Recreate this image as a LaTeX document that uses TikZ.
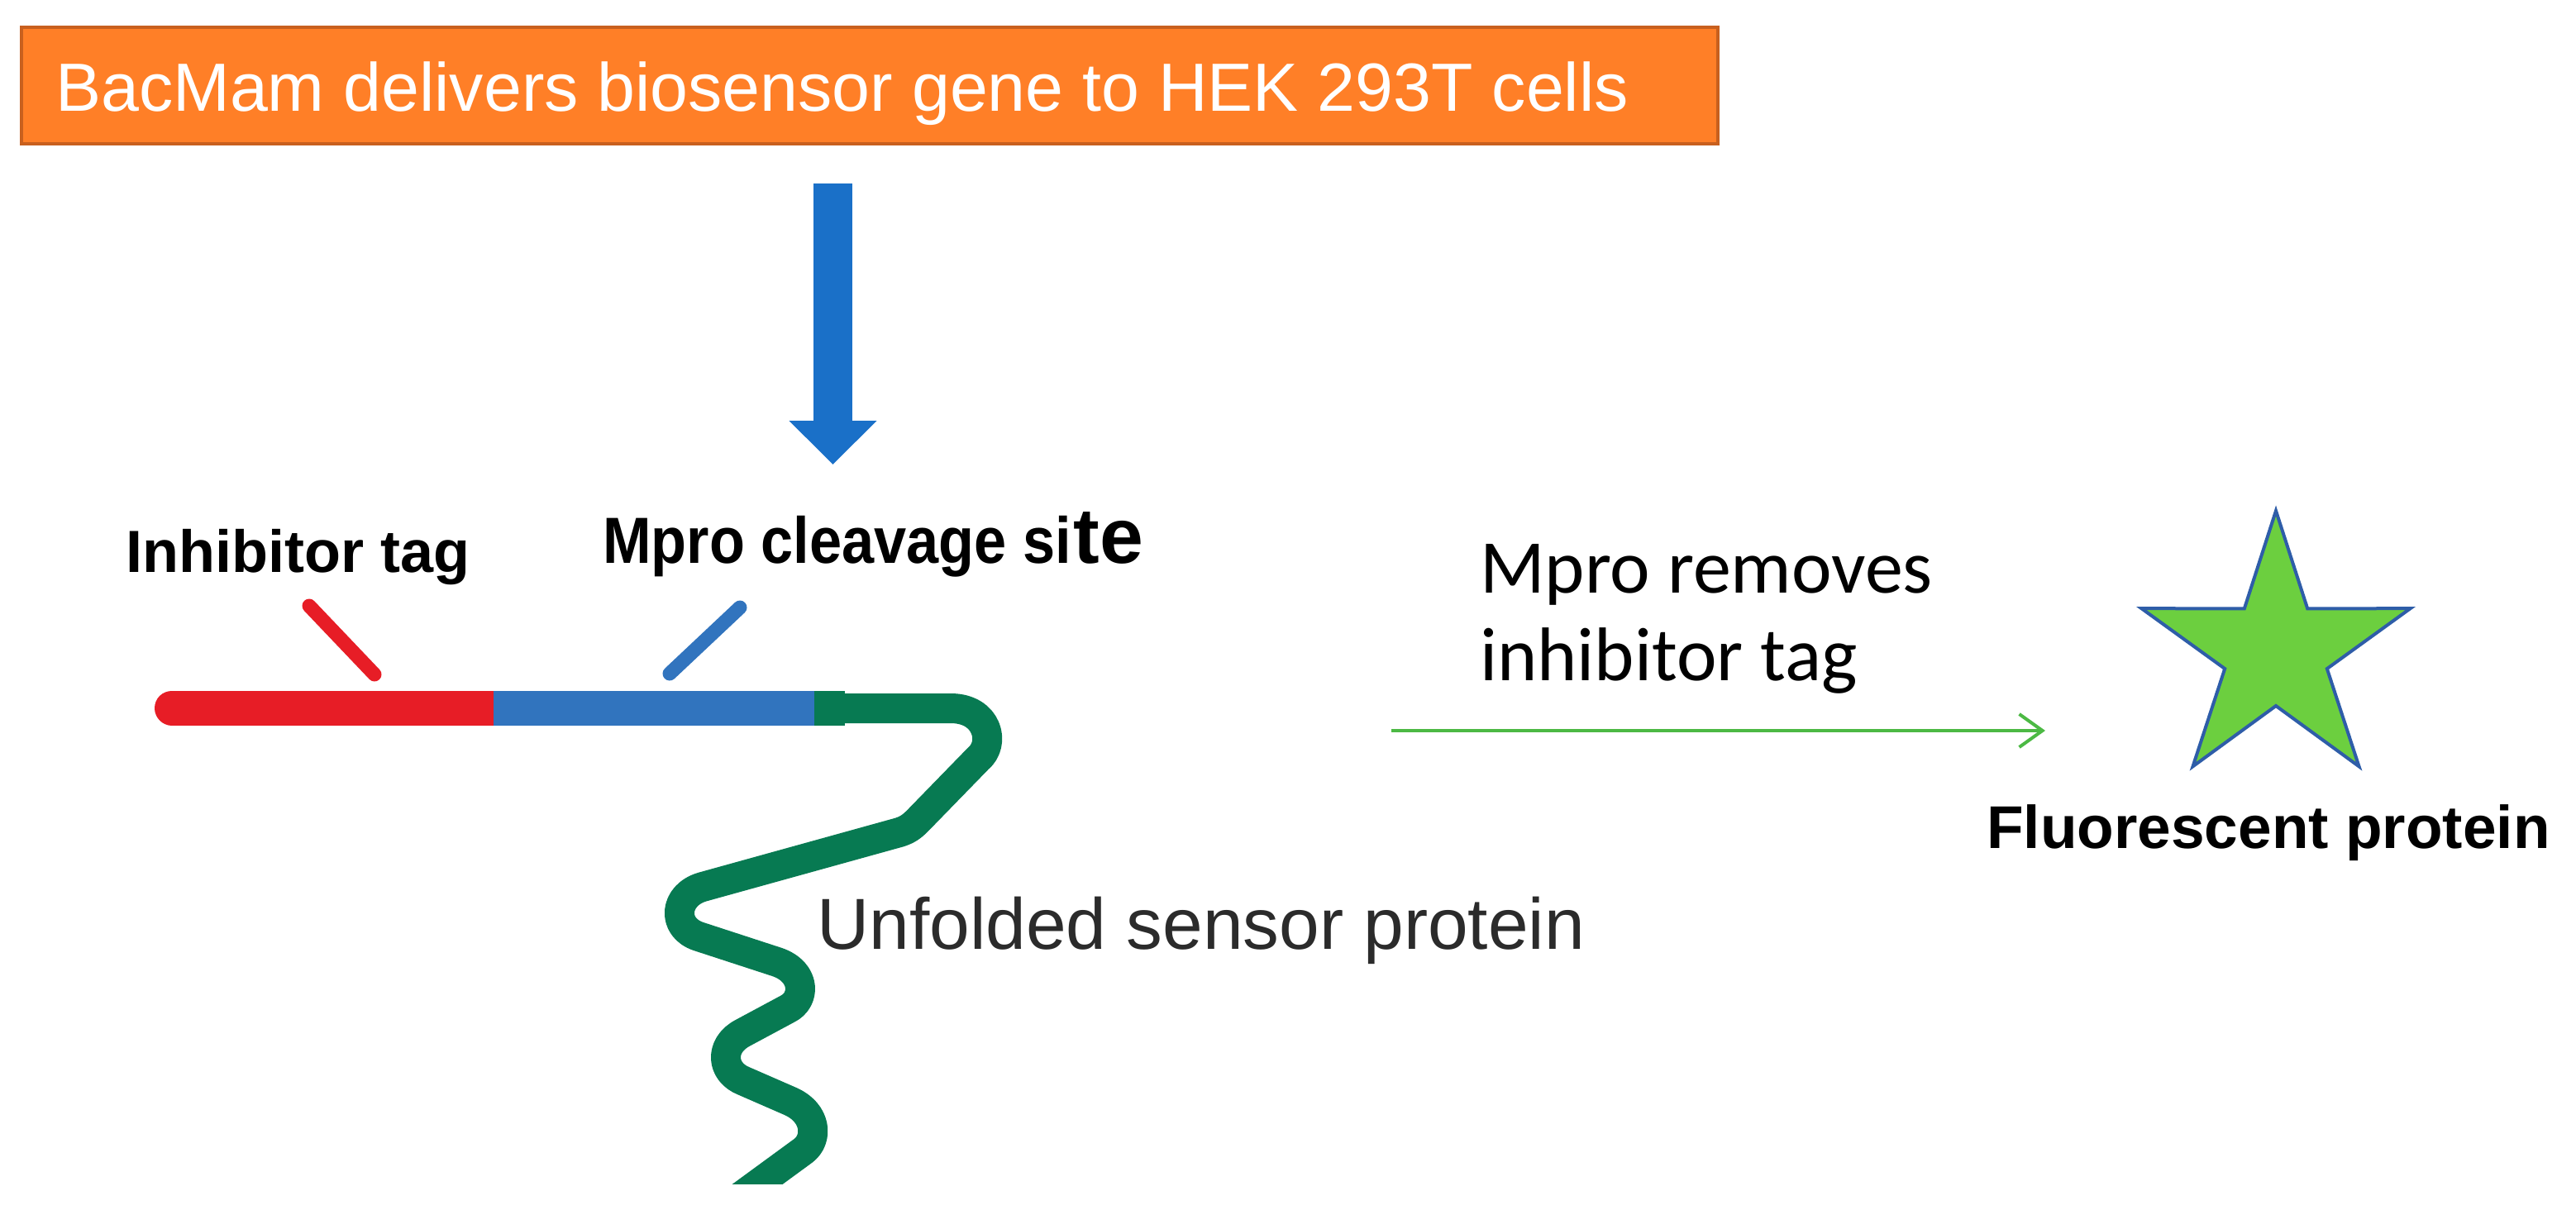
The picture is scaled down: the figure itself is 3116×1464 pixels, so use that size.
\documentclass[tikz,border=0pt]{standalone}
\usepackage{fontspec}
\setmainfont{Liberation Sans}
\newfontfamily\calfont{Carlito}
\usetikzlibrary{arrows.meta,calc}
\definecolor{boxorange}{HTML}{FF7F27}
\definecolor{boxedge}{HTML}{C8601E}
\definecolor{arrowblue}{HTML}{1A70C8}
\definecolor{tagred}{HTML}{E71D26}
\definecolor{siteblue}{HTML}{3174BE}
\definecolor{protgreen}{HTML}{077A52}
\definecolor{starfill}{HTML}{6CCF3F}
\definecolor{staredge}{HTML}{2E5DA8}
\definecolor{thingreen}{HTML}{4CB944}
\definecolor{labelgray}{HTML}{2B2B2B}
\tikzset{
  lbl/.style={inner sep=0pt, anchor=base west},
  boldlbl/.style={lbl, font=\bfseries\fontsize{72}{86}\selectfont},
  tick/.style={line width=17pt, line cap=round},
}
\begin{document}
\begin{tikzpicture}[x=1pt,y=-1pt]
\useasboundingbox (0,0) rectangle (3116,1464);
% title box
\draw[fill=boxorange, draw=boxedge, line width=4pt] (26,33) rectangle (2078,174);
\node[lbl, text=white, font=\fontsize{82.5}{99}\selectfont] (title) at (67,134) {BacMam delivers biosensor gene to HEK 293T cells};
% blue arrow
\coordinate (bstart) at (1007.5,222);
\coordinate (bend) at (1007.5,562);
\draw[arrowblue, line width=47pt, -{Triangle[width=103pt,length=53pt]}] (bstart) -- (bend);
% labels
\node[boldlbl] (inh) at (152,692) {Inhibitor tag};
\node[lbl, font=\bfseries] (mpro) at (729,681) {\scalebox{0.89}[1]{\fontsize{79}{94}\selectfont Mpro cleavage si}\hspace{3pt}{\fontsize{95}{110}\selectfont te}};
% ticks
\coordinate (rt1) at (374,733);
\coordinate (rt2) at (453,816);
\coordinate (bt1) at (895,735);
\coordinate (bt2) at (810,815);
\draw[tick, tagred] (rt1) -- (rt2);
\draw[tick, siteblue] (bt1) -- (bt2);
% bar
\coordinate (r0) at (208,856.5);
\coordinate (r1) at (597,856.5);
\coordinate (b1) at (986,856.5);
\draw[tagred, line width=42pt, line cap=round] (r0) -- (r1);
\draw[siteblue, line width=42pt] (r1) -- (b1);
% green protein
\fill[protgreen] (985,836) rectangle (1022,878);
\begin{scope}
\clip (0,0) rectangle (3116,1432);
\draw[protgreen, line width=36pt, line join=round]
  (1000,857) -- (1150,857)
  .. controls (1195,857) and (1205,900) .. (1183,918)
  -- (1110,993)
  .. controls (1102,1001) and (1097,1004) .. (1088,1007)
  -- (850,1073)
  .. controls (815,1083) and (812,1122) .. (845,1133)
  -- (940,1164)
  .. controls (975,1176) and (975,1210) .. (952,1221)
  -- (898,1250)
  .. controls (870,1265) and (872,1297) .. (900,1308)
  -- (955,1332)
  .. controls (988,1346) and (990,1378) .. (972,1392)
  -- (890,1452);
\end{scope}
\node[lbl, text=labelgray, font=\fontsize{87.5}{105}\selectfont] (unf) at (988,1148) {Unfolded sensor protein};
% Mpro removes
\node[lbl, font=\calfont\fontsize{92}{110}\selectfont] (mr1) at (1790,717) {Mpro removes};
\node[lbl, font=\calfont\fontsize{92}{110}\selectfont] (mr2) at (1790,823) {inhibitor tag};
% green arrow
\coordinate (ga) at (1683,884);
\coordinate (gb) at (2474,884);
\draw[thingreen, line width=4pt, -{Straight Barb[length=28pt,width=40pt]}] (ga) -- (gb);
% star
\coordinate (sc) at (2753,789);
\draw[fill=starfill, draw=staredge, line width=4pt, line join=miter]
  ($(sc)+(-90:171)$) foreach \k in {0,...,4} { -- ($(sc)+(-54+72*\k:65)$) -- ($(sc)+(-18+72*\k:171)$) } -- cycle;
\node[boldlbl, font=\bfseries\fontsize{73}{88}\selectfont] (fl) at (2403,1026) {Fluorescent protein};
\end{tikzpicture}
\end{document}
